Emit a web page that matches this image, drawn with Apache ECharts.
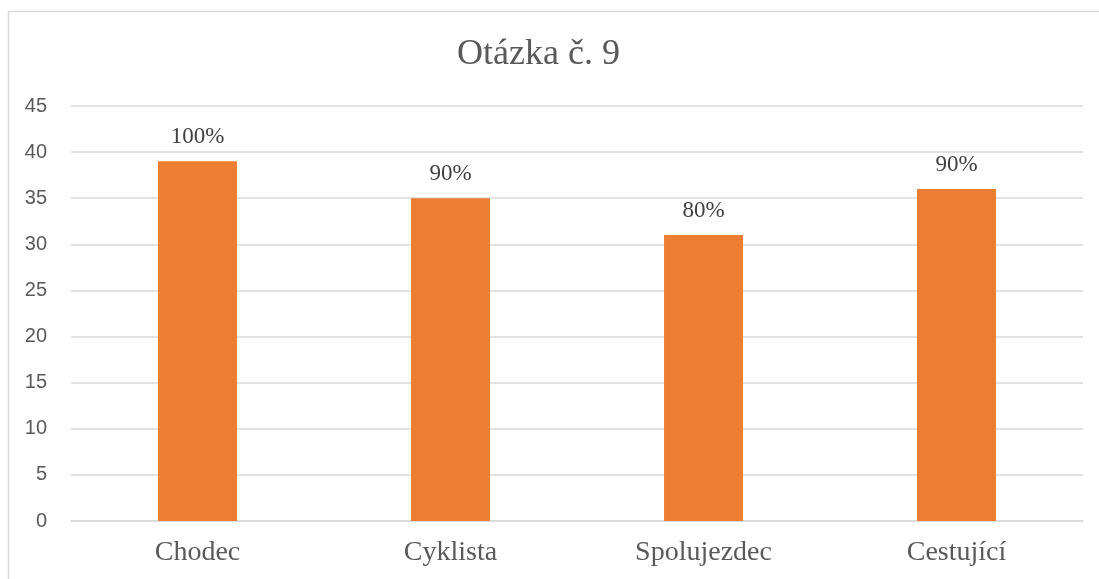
<!DOCTYPE html>
<html><head><meta charset="utf-8">
<script src="https://cdn.jsdelivr.net/npm/echarts@6/dist/echarts.min.js"></script>
<style>html,body{margin:0;padding:0;background:#fff}#c{width:1099px;height:579px}</style>
</head><body><div id="c"></div>
<script>
const categories = ['Chodec', 'Cyklista', 'Spolujezdec', 'Cestující'];
const values = [39, 35, 31, 36];
const valueLabels = ['100%', '90%', '80%', '90%'];
const yTicks = [0, 5, 10, 15, 20, 25, 30, 35, 40, 45];

const chart = echarts.init(document.getElementById('c'));
chart.setOption({
  animation: false,
  backgroundColor: '#fff',
  graphic: [{
    type: 'rect', left: 6, top: 9, shape: { width: 1200, height: 700 },
    style: { fill: 'none', stroke: '#d9d9d9', lineWidth: 1.5 }, silent: true
  }],
  title: {
    text: 'Otázka č. 9', left: 452, top: 32,
    textStyle: { fontFamily: 'Liberation Serif', fontSize: 36, fontWeight: 'normal', color: '#595959' }
  },
  grid: { left: 71, right: 16, top: 106, bottom: 58, containLabel: false },
  xAxis: {
    type: 'category', data: categories,
    axisLine: { show: true, lineStyle: { color: '#d9d9d9', width: 1.5 } },
    axisTick: { show: false },
    axisLabel: { fontFamily: 'Liberation Serif', fontSize: 28, color: '#595959', margin: 18 }
  },
  yAxis: {
    type: 'value', min: yTicks[0], max: yTicks[yTicks.length - 1], interval: 5,
    axisLine: { show: false }, axisTick: { show: false },
    splitLine: { lineStyle: { color: '#d9d9d9', width: 1.5 } },
    axisLabel: { fontFamily: 'Liberation Sans', fontSize: 20, color: '#595959', margin: 24 }
  },
  series: [{
    type: 'bar', data: values, barWidth: '31.2%',
    itemStyle: { color: '#ED7D31' },
    label: {
      show: true, position: 'top', distance: 13,
      fontFamily: 'Liberation Serif', fontSize: 23, color: '#404040',
      formatter: p => valueLabels[p.dataIndex]
    }
  }]
});
</script></body></html>
